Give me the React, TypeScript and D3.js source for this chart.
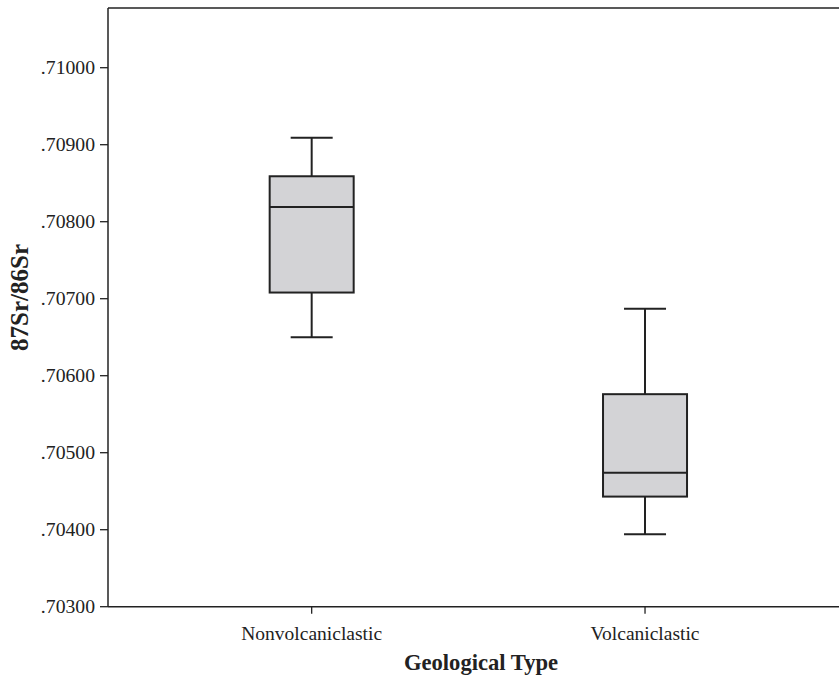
import React from "react";
import * as d3 from "d3";

const categories = ["Nonvolcaniclastic", "Volcaniclastic"];
const whiskerLow = [0.7065, 0.70394];
const q1 = [0.70708, 0.70443];
const median = [0.70819, 0.70474];
const q3 = [0.70859, 0.70576];
const whiskerHigh = [0.70909, 0.70687];
const yTicks = [0.703, 0.704, 0.705, 0.706, 0.707, 0.708, 0.709, 0.71];

const W = 839;
const H = 680;
const left = 108;
const top = 8;
const bottom = 606.7;
const right = 848.7;
const font = "'Liberation Serif', 'Times New Roman', serif";
const ink = "#222";

export default function App() {
  const y = d3.scaleLinear().domain([0.703, 0.703 + (bottom - top) / 77000]).range([bottom, top]);
  const x = d3.scalePoint<string>().domain(categories).range([left, right]).padding(0.611);
  const step = x.step();
  const boxW = step * 0.252;
  const capW = boxW / 2;
  const fmt = (v: number) => v.toFixed(5).replace(/^0/, "");

  return (
    <svg width={W} height={H} style={{ position: "absolute", left: 0, top: 0, background: "#fff" }}>
      <line x1={left} x2={left} y1={top} y2={bottom} stroke={ink} strokeWidth={1.5} />
      <line x1={left} x2={W} y1={top} y2={top} stroke={ink} strokeWidth={1.5} />
      <line x1={left} x2={W} y1={bottom} y2={bottom} stroke={ink} strokeWidth={1.5} />
      {yTicks.map((t) => (
        <g key={t}>
          <line x1={left - 8} x2={left} y1={y(t)} y2={y(t)} stroke={ink} strokeWidth={1.3} />
          <text x={left - 13} y={y(t)} dy="0.34em" textAnchor="end" fontFamily={font} fontSize={19.7} fill={ink}>
            {fmt(t)}
          </text>
        </g>
      ))}
      {categories.map((c) => (
        <g key={c}>
          <line x1={x(c)} x2={x(c)} y1={bottom} y2={bottom + 7} stroke={ink} strokeWidth={1.3} />
          <text x={x(c)} y={bottom + 33.5} textAnchor="middle" fontFamily={font} fontSize={19.5} fill={ink}>
            {c}
          </text>
        </g>
      ))}
      {categories.map((c, i) => {
        const cx = x(c) as number;
        return (
          <g key={"b" + c} stroke={ink} strokeWidth={2}>
            <line x1={cx} x2={cx} y1={y(whiskerHigh[i])} y2={y(q3[i])} />
            <line x1={cx} x2={cx} y1={y(q1[i])} y2={y(whiskerLow[i])} />
            <line x1={cx - capW / 2} x2={cx + capW / 2} y1={y(whiskerHigh[i])} y2={y(whiskerHigh[i])} />
            <line x1={cx - capW / 2} x2={cx + capW / 2} y1={y(whiskerLow[i])} y2={y(whiskerLow[i])} />
            <rect x={cx - boxW / 2} y={y(q3[i])} width={boxW} height={y(q1[i]) - y(q3[i])} fill="#d3d3d6" />
            <line x1={cx - boxW / 2} x2={cx + boxW / 2} y1={y(median[i])} y2={y(median[i])} />
          </g>
        );
      })}
      <text x={481} y={670} textAnchor="middle" fontFamily={font} fontWeight="bold" fontSize={22.6} fill={ink}>
        Geological Type
      </text>
      <text
        transform={`translate(28,297.5) rotate(-90)`}
        textAnchor="middle"
        fontFamily={font}
        fontWeight="bold"
        fontSize={25}
        fill={ink}
      >
        87Sr/86Sr
      </text>
    </svg>
  );
}
